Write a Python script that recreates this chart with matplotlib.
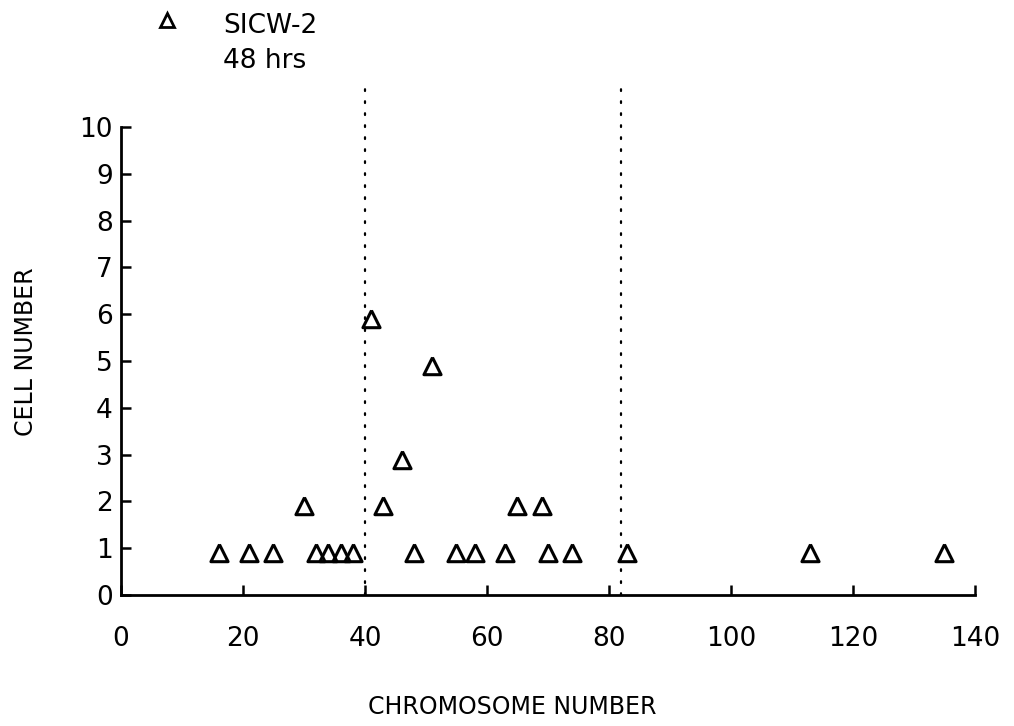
import matplotlib
matplotlib.use("Agg")
import matplotlib.pyplot as plt
from matplotlib.lines import Line2D

# ---- data ----
chromosome_number = [16, 21, 25, 30, 32, 34, 36, 38, 41, 43, 46, 48, 51,
                     55, 58, 63, 65, 69, 70, 74, 83, 113, 135]
cell_number = [1, 1, 1, 2, 1, 1, 1, 1, 6, 2, 3, 1, 5,
               1, 1, 1, 2, 2, 1, 1, 1, 1, 1]
boundary_lines = [40, 82]
boundary_top = 11
x_ticks = [0, 20, 40, 60, 80, 100, 120, 140]
y_ticks = list(range(0, 11))
series_label = "SICW-2"
series_sub = "48 hrs"
x_label = "CHROMOSOME NUMBER"
y_label = "CELL NUMBER"

plt.rcParams['font.family'] = ['DejaVu Sans']

fig = plt.figure(figsize=(10.14, 7.26), dpi=100)
ax = fig.add_axes([0.1193, 0.1804, 0.8422, 0.6446])

# triangle marker whose apex sits slightly above the data point
tri = [(0, 0.3), (-0.65, -1.0), (0.65, -1.0), (0, 0.3)]

ax.plot(chromosome_number, cell_number, linestyle='none', marker=tri,
        markersize=19, markerfacecolor='none', markeredgecolor='black',
        markeredgewidth=2.2, clip_on=False, zorder=3)

for xb in boundary_lines:
    ax.plot([xb, xb], [0, boundary_top], color='black', linewidth=1.6,
            linestyle=(0, (0.8, 4.6)), dash_capstyle='round', clip_on=False)

ax.set_xlim(0, 140)
ax.set_ylim(0, 10)
ax.set_xticks(x_ticks)
ax.set_yticks(y_ticks)
ax.spines['top'].set_visible(False)
ax.spines['right'].set_visible(False)
for s in ('left', 'bottom'):
    ax.spines[s].set_linewidth(2.0)
ax.tick_params(axis='both', direction='in', length=7, width=1.8,
               labelsize=19, color='black')
ax.tick_params(axis='x', pad=22)
ax.tick_params(axis='y', pad=6)

ax.set_xlabel(x_label, fontsize=17)
ax.set_ylabel(y_label, fontsize=17)
ax.xaxis.set_label_coords(0.458, -0.214)
ax.yaxis.set_label_coords(-0.097, 0.519)

# legend-like annotation at the top
fig.add_artist(Line2D([167 / 1014], [1 - 20 / 726], marker='^', markersize=10,
                      markerfacecolor='none', markeredgecolor='black',
                      markeredgewidth=2.0, linestyle='none',
                      transform=fig.transFigure))
fig.text(223 / 1014, 1 - 33 / 726, series_label, fontsize=19,
         ha='left', va='baseline')
fig.text(223 / 1014, 1 - 68 / 726, series_sub, fontsize=19,
         ha='left', va='baseline')

fig.savefig("out.png", dpi=100, facecolor='white')
